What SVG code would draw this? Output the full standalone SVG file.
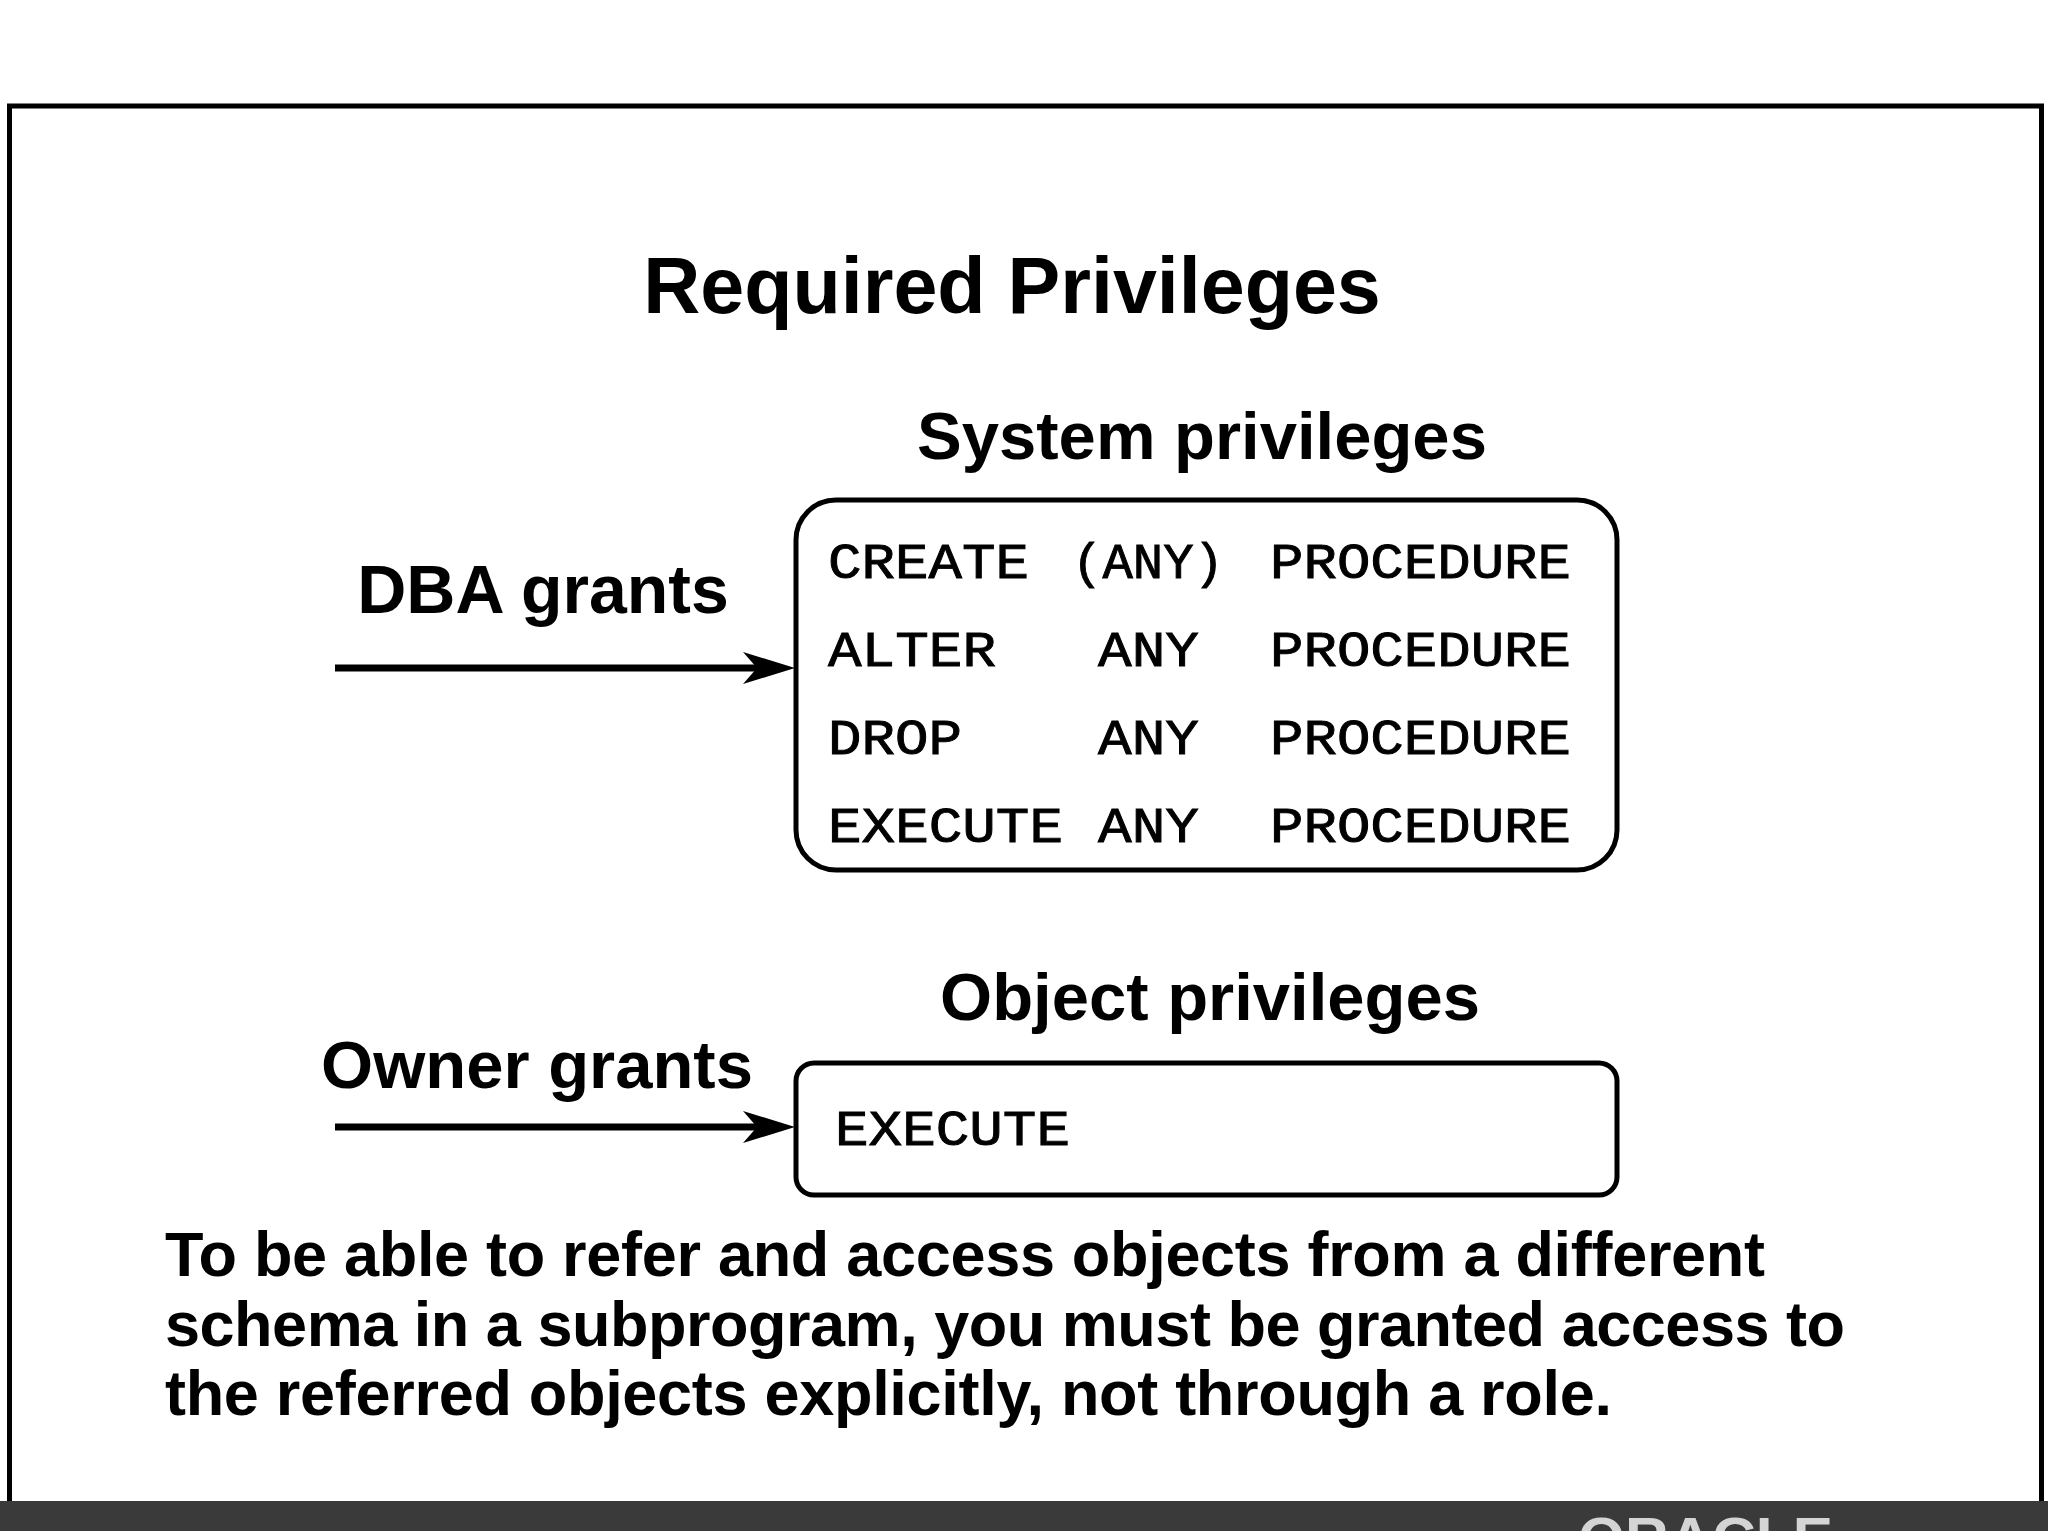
<svg xmlns="http://www.w3.org/2000/svg" width="2048" height="1531" viewBox="0 0 2048 1531">
<defs><style>
.h{font-family:"Liberation Sans",Arial,sans-serif;font-weight:700;fill:#000}
.m{font-family:"Liberation Mono","Courier New",monospace;font-size:50px;fill:#000;font-weight:400;stroke:#000;stroke-width:.9px}
.b{fill:#fff;stroke:#000;stroke-width:5}
.c{fill:none;stroke:#000;stroke-width:7}
.a{fill:#000}
</style></defs>
<rect width="2048" height="1531" fill="#fff"/>
<rect x="9.5" y="106" width="2032" height="1431" fill="#fff" stroke="#000" stroke-width="5"/>
<rect x="0" y="1501" width="2048" height="30" fill="#3a3a3a"/>
<text x="1578" y="1558" font-family="'Liberation Sans',Arial,sans-serif" font-size="58" font-weight="700" fill="#d4d4d4" textLength="255" lengthAdjust="spacingAndGlyphs">ORACLE</text>
<text class="h" x="1012" y="313" font-size="79" text-anchor="middle">Required Privileges</text>
<g id="system-privileges">
<text class="h" x="1202" y="459" font-size="67" text-anchor="middle">System privileges</text>
<rect class="b" x="796" y="500" width="821" height="370" rx="40"/>
<text class="m" x="828" y="578" textLength="201" lengthAdjust="spacingAndGlyphs">CREATE</text><text class="m" x="1072" y="578" textLength="152" lengthAdjust="spacingAndGlyphs">(ANY)</text><text class="m" x="1270" y="578" textLength="301" lengthAdjust="spacingAndGlyphs">PROCEDURE</text>
<text class="m" x="828" y="666" textLength="168" lengthAdjust="spacingAndGlyphs">ALTER</text><text class="m" x="1098" y="666" textLength="101" lengthAdjust="spacingAndGlyphs">ANY</text><text class="m" x="1270" y="666" textLength="301" lengthAdjust="spacingAndGlyphs">PROCEDURE</text>
<text class="m" x="828" y="754" textLength="134" lengthAdjust="spacingAndGlyphs">DROP</text><text class="m" x="1098" y="754" textLength="101" lengthAdjust="spacingAndGlyphs">ANY</text><text class="m" x="1270" y="754" textLength="301" lengthAdjust="spacingAndGlyphs">PROCEDURE</text>
<text class="m" x="828" y="842" textLength="235" lengthAdjust="spacingAndGlyphs">EXECUTE</text><text class="m" x="1098" y="842" textLength="101" lengthAdjust="spacingAndGlyphs">ANY</text><text class="m" x="1270" y="842" textLength="301" lengthAdjust="spacingAndGlyphs">PROCEDURE</text>
</g>
<g id="object-privileges">
<text class="h" x="1210" y="1020" font-size="67" text-anchor="middle">Object privileges</text>
<rect class="b" x="796" y="1063" width="821" height="132" rx="18"/>
<text class="m" x="835" y="1145" textLength="235" lengthAdjust="spacingAndGlyphs">EXECUTE</text>
</g>
<g id="dba-grants"><text class="h" x="543" y="613" font-size="68" text-anchor="middle">DBA grants</text></g>
<g id="owner-grants"><text class="h" x="537" y="1088" font-size="67" text-anchor="middle">Owner grants</text></g>
<g id="connectors">
<path class="c" d="M335 668H770"/><path class="a" d="M795 668L743 652L757 668L743 684Z"/>
<path class="c" d="M335 1127H770"/><path class="a" d="M795 1127L743 1111L757 1127L743 1143Z"/>
</g>
<g id="note" class="h" font-size="63">
<text x="165" y="1276" textLength="1600">To be able to refer and access objects from a different</text>
<text x="165" y="1346" textLength="1680">schema in a subprogram, you must be granted access to</text>
<text x="165" y="1415" textLength="1447">the referred objects explicitly, not through a role.</text>
</g>
</svg>
